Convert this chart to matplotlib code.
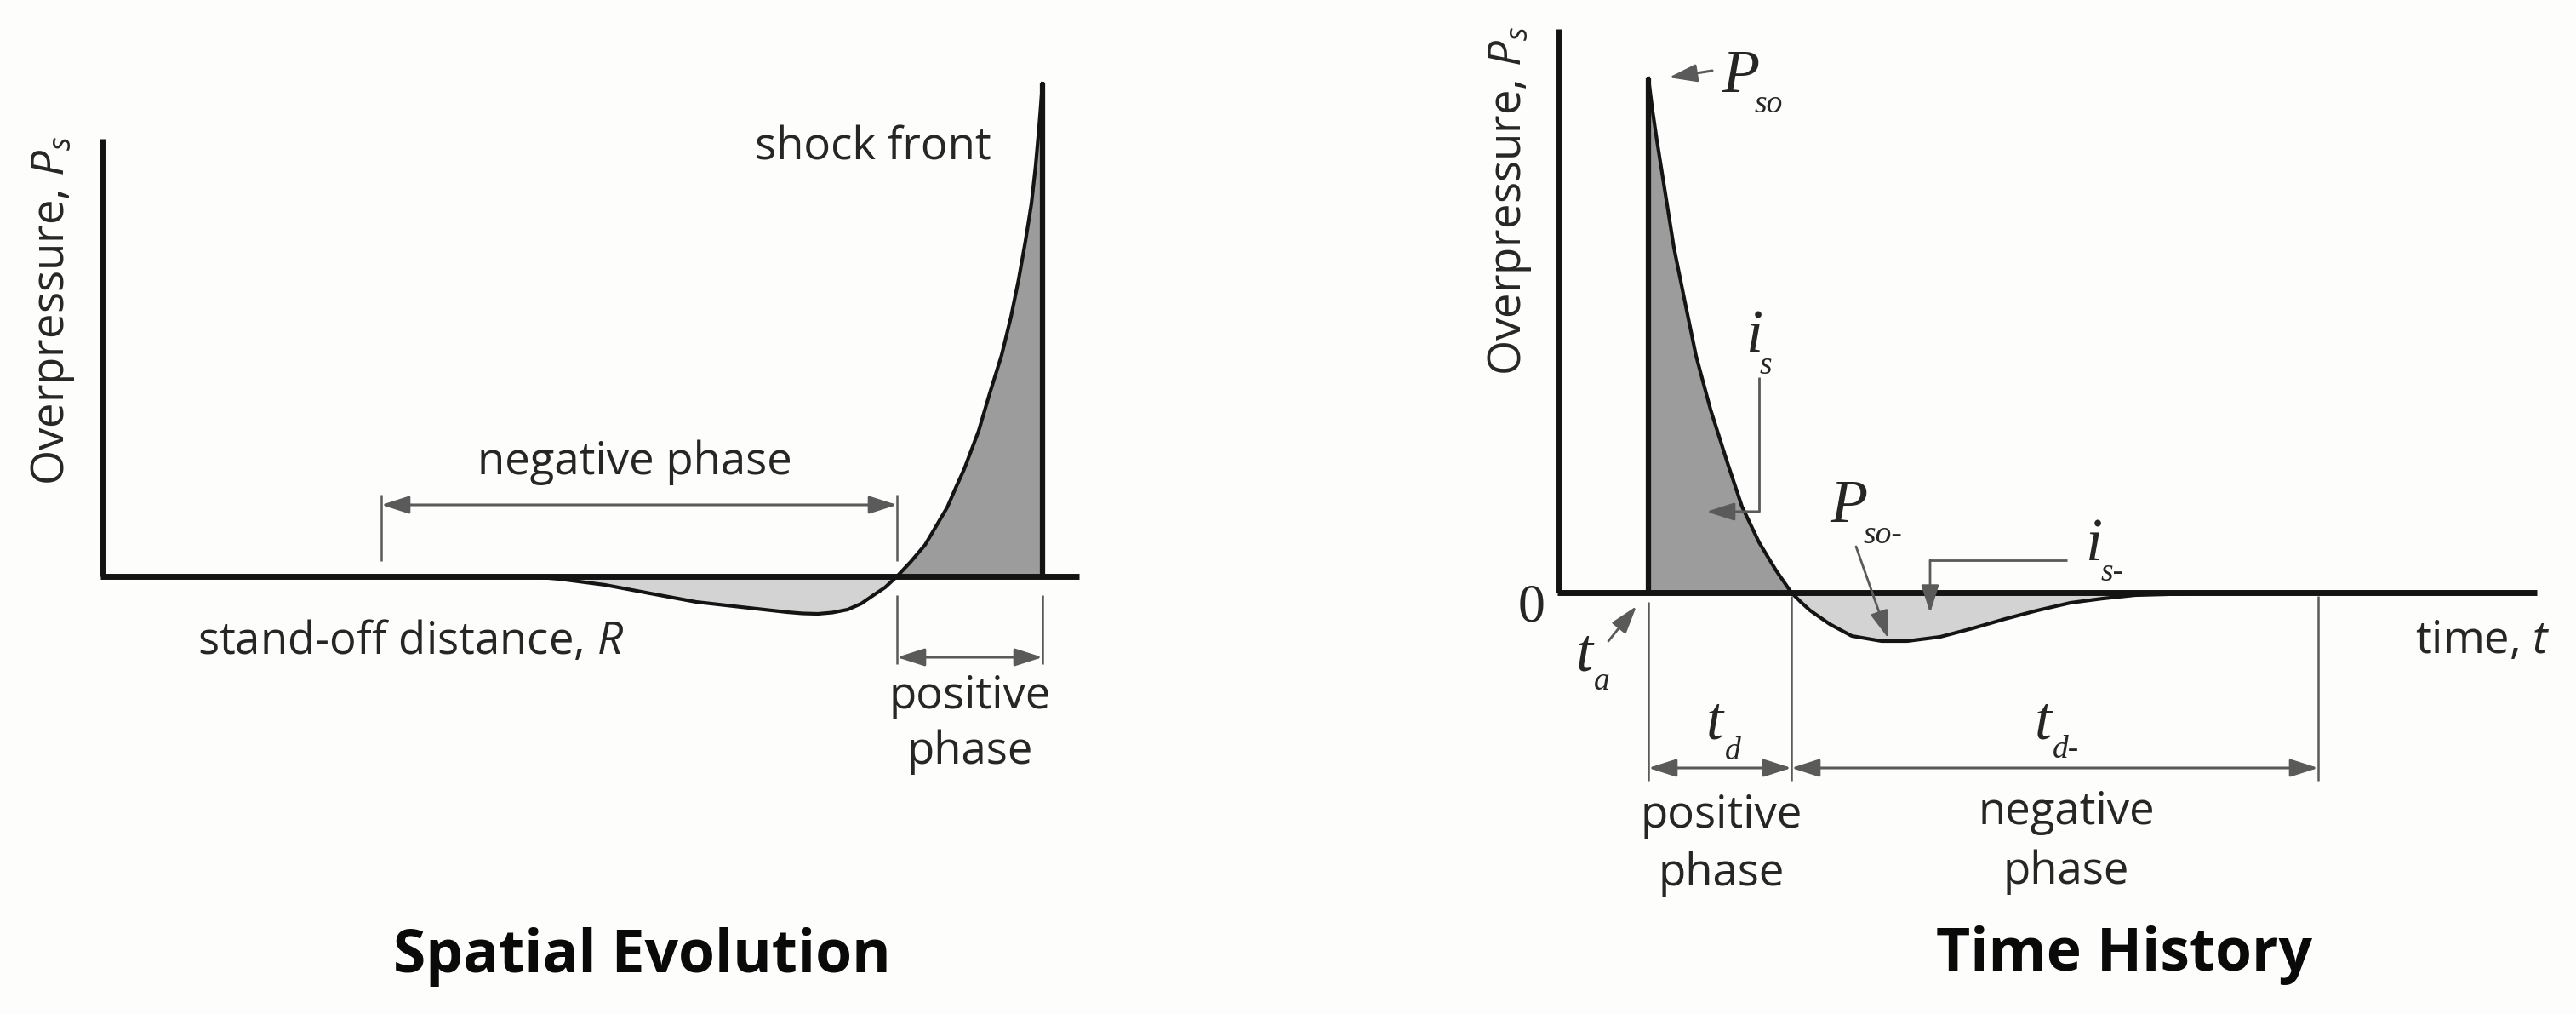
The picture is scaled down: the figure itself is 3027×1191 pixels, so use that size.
import matplotlib
matplotlib.use("Agg")
import matplotlib.pyplot as plt
import numpy as np

# ---------------- data (arbitrary units) ----------------
# Spatial evolution: overpressure vs stand-off distance
spatial_distance = [5.01, 5.37, 5.91, 6.44, 6.98, 7.51, 8.05, 8.23, 8.41, 8.58, 8.76, 8.92,
                    9.05, 9.20, 9.34, 9.50, 9.67, 9.80, 9.93, 10.03, 10.13, 10.30, 10.43,
                    10.57, 10.68, 10.77, 10.85, 10.92, 10.97, 11.01, 11.05]
spatial_pressure = [0.00, -0.03, -0.10, -0.20, -0.30, -0.36, -0.42, -0.435, -0.44, -0.425, -0.39, -0.32,
                    -0.23, -0.13, 0.00, 0.17, 0.37, 0.59, 0.81, 1.04, 1.26, 1.71, 2.15,
                    2.60, 3.05, 3.49, 3.94, 4.38, 4.83, 5.28, 5.79]

# Time history: overpressure vs time
time_values = [1.05, 1.10, 1.15, 1.25, 1.35, 1.48, 1.61, 1.78, 1.98, 2.15, 2.35, 2.55, 2.73,
               2.84, 2.95, 3.18, 3.44, 3.79, 4.09, 4.48, 4.86, 5.24, 5.62, 6.01, 6.39,
               6.77, 7.15, 7.73]
time_pressure = [6.04, 5.65, 5.31, 4.68, 4.05, 3.41, 2.78, 2.15, 1.52, 1.01, 0.59, 0.26, 0.00,
                 -0.11, -0.21, -0.37, -0.51, -0.57, -0.57, -0.52, -0.42, -0.31, -0.21, -0.12, -0.07,
                 -0.03, -0.02, 0.00]

panel_titles = ["Spatial Evolution", "Time History"]

# ---------------- style ----------------
W, H = 3027, 1191
BG = "#fdfdfb"
INK = "#141414"
TXT = "#262626"
DIM = "#5a5a5a"
DARK_FILL = "#9c9c9c"
LIGHT_FILL = "#d3d3d3"
SANS = "Open Sans"
SERIF = "Liberation Serif"
FS = 38

plt.rcParams["mathtext.fontset"] = "custom"
plt.rcParams["mathtext.rm"] = SANS
plt.rcParams["mathtext.it"] = SANS + ":italic"

fig = plt.figure(figsize=(W / 100, H / 100), dpi=100, facecolor=BG)

# pixel -> data helpers (layout only); 1 data unit = 100 px
LX0, LY0 = 120, 677     # origin of left panel in pixels
RX0, RY0 = 1832, 696    # origin of right panel in pixels


def L(px, py):
    return ((px - LX0) / 100.0, (LY0 - py) / 100.0)


def R(px, py):
    return ((px - RX0) / 100.0, (RY0 - py) / 100.0)


SPLIT = 1500
axL = fig.add_axes([0, 0, SPLIT / W, 1])
axL.set_xlim((0 - LX0) / 100, (SPLIT - LX0) / 100)
axL.set_ylim((LY0 - H) / 100, LY0 / 100)
axR = fig.add_axes([SPLIT / W, 0, (W - SPLIT) / W, 1])
axR.set_xlim((SPLIT - RX0) / 100, (W - RX0) / 100)
axR.set_ylim((RY0 - H) / 100, RY0 / 100)
for a in (axL, axR):
    a.set_axis_off()
    a.patch.set_alpha(0)


def dim_arrow(ax, p0, p1, style="<|-|>", lw=2.2, color=DIM):
    ax.annotate("", xy=p1, xytext=p0, xycoords="data", textcoords="data",
                arrowprops=dict(arrowstyle=style + ",head_length=1.0,head_width=0.32",
                                mutation_scale=20, lw=lw, color=color,
                                shrinkA=0, shrinkB=0), zorder=6)


def vline(ax, p0, p1, lw=1.8, color=DIM, z=5):
    ax.plot([p0[0], p1[0]], [p0[1], p1[1]], color=color, lw=lw, zorder=z,
            solid_capstyle="butt")


# ================= LEFT: spatial evolution =================
xd = np.array(spatial_distance)
yd = np.array(spatial_pressure)
axL.fill_between(xd, yd, 0, where=yd >= 0, color=DARK_FILL, lw=0, zorder=1)
axL.fill_between(xd, yd, 0, where=yd <= 0, color=LIGHT_FILL, lw=0, zorder=1)
# axes
ax_top_L = L(0, 163)[1]
ax_end_L = L(1268, 0)[0]
axL.plot([0, 0], [0, ax_top_L], color=INK, lw=5, zorder=3, solid_capstyle="butt")
axL.plot([-0.025, ax_end_L], [0, 0], color=INK, lw=5, zorder=3, solid_capstyle="butt")
# curve and shock front edge
axL.plot(xd, yd, color=INK, lw=3, zorder=4, solid_joinstyle="round")
axL.plot([xd[-1], xd[-1]], [0, yd[-1]], color=INK, lw=4.5, zorder=4, solid_capstyle="butt")

zero_L = spatial_distance[spatial_pressure.index(0.00, 1)]
shock_L = spatial_distance[-1]
# negative phase dimension
neg_start_L = L(448, 0)[0]
yA = L(0, 593)[1]
vline(axL, (neg_start_L, L(0, 581)[1]), (neg_start_L, L(0, 659)[1]))
vline(axL, (zero_L, L(0, 581)[1]), (zero_L, L(0, 659)[1]))
dim_arrow(axL, (neg_start_L, yA), (zero_L, yA))
# positive phase dimension
for xx in (zero_L, shock_L):
    vline(axL, (xx, L(0, 699)[1]), (xx, L(0, 780)[1]))
yP = L(0, 772)[1]
dim_arrow(axL, (zero_L, yP), (shock_L, yP))

# texts
axL.text(*L(75, 570), "Overpressure, $P_s$", rotation=90, rotation_mode="anchor",
         ha="left", va="baseline", fontsize=FS, family=SANS, color=TXT)
axL.text(*L(1026, 187), "shock front", ha="center", va="baseline",
         fontsize=FS, family=SANS, color=TXT)
axL.text(*L(746, 557), "negative phase", ha="center", va="baseline",
         fontsize=FS, family=SANS, color=TXT)
axL.text(*L(232, 768), "stand-off distance, $R$", ha="left", va="baseline",
         fontsize=FS, family=SANS, color=TXT)
axL.text(*L(1140, 832), "positive", ha="center", va="baseline",
         fontsize=FS, family=SANS, color=TXT)
axL.text(*L(1140, 897), "phase", ha="center", va="baseline",
         fontsize=FS, family=SANS, color=TXT)
axL.text(*L(754, 1142), panel_titles[0], ha="center", va="baseline",
         fontsize=50, family=SANS, weight="bold", color="#0a0a0a")

# ================= RIGHT: time history =================
xt = np.array(time_values)
yt = np.array(time_pressure)
axR.fill_between(xt, yt, 0, where=yt >= 0, color=DARK_FILL, lw=0, zorder=1)
axR.fill_between(xt, yt, 0, where=yt <= 0, color=LIGHT_FILL, lw=0, zorder=1)
ax_top_R = R(0, 34)[1]
ax_end_R = R(2981, 0)[0]
axR.plot([0, 0], [0, ax_top_R], color=INK, lw=5, zorder=3, solid_capstyle="butt")
axR.plot([-0.025, ax_end_R], [0, 0], color=INK, lw=5, zorder=3, solid_capstyle="butt")
axR.plot(xt, yt, color=INK, lw=3, zorder=4, solid_joinstyle="round")
axR.plot([xt[0], xt[0]], [0, yt[0]], color=INK, lw=4.5, zorder=4, solid_capstyle="butt")

t_arr = time_values[0]
t_zero = time_values[time_pressure.index(0.00)]
t_end_neg = R(2724, 0)[0]
vline(axR, (t_arr, R(0, 707)[1]), (t_arr, R(0, 917)[1]))
vline(axR, (t_zero, R(0, 700)[1]), (t_zero, R(0, 917)[1]))
vline(axR, (t_end_neg, R(0, 700)[1]), (t_end_neg, R(0, 917)[1]))
yD = R(0, 902)[1]
dim_arrow(axR, (t_arr, yD), (t_zero, yD))
dim_arrow(axR, (t_zero, yD), (t_end_neg, yD))

# leaders
dim_arrow(axR, R(2012, 83), R(1961, 91), style="-|>")
vline(axR, R(2067, 443), R(2067, 601), lw=2.0)
dim_arrow(axR, R(2067, 601), R(2005, 601), style="-|>")
dim_arrow(axR, R(2181, 642), R(2219, 750), style="-|>", lw=2.0)
vline(axR, R(2429, 658), R(2268, 658), lw=2.0)
dim_arrow(axR, R(2268, 658), R(2268, 720), style="-|>", lw=2.0)
dim_arrow(axR, R(1890, 753), R(1923, 712), style="-|>", lw=2.0)

# sans texts
axR.text(*R(1787, 441), "Overpressure, $P_s$", rotation=90, rotation_mode="anchor",
         ha="left", va="baseline", fontsize=FS, family=SANS, color=TXT)
axR.text(*R(2917, 767), "time, $t$", ha="center", va="baseline",
         fontsize=FS, family=SANS, color=TXT)
axR.text(*R(2023, 972), "positive", ha="center", va="baseline",
         fontsize=FS, family=SANS, color=TXT)
axR.text(*R(2023, 1040), "phase", ha="center", va="baseline",
         fontsize=FS, family=SANS, color=TXT)
axR.text(*R(2428, 968), "negative", ha="center", va="baseline",
         fontsize=FS, family=SANS, color=TXT)
axR.text(*R(2428, 1038), "phase", ha="center", va="baseline",
         fontsize=FS, family=SANS, color=TXT)
axR.text(*R(2496, 1140), panel_titles[1], ha="center", va="baseline",
         fontsize=50, family=SANS, weight="bold", color="#0a0a0a")

# serif symbols
BIG, SUB = 52, 27


def sym(ax, p, s, size, upright=False):
    ax.text(*p, s, ha="left", va="baseline", fontsize=size, family=SERIF,
            style="normal" if upright else "italic", color=TXT, zorder=7)


sym(axR, R(2023, 108), "P", BIG)
sym(axR, R(2062, 132), "so", SUB)
sym(axR, R(2052, 413), "i", BIG)
sym(axR, R(2068, 439), "s", SUB)
sym(axR, R(2150, 613), "P", BIG)
sym(axR, R(2190, 638), "so-", SUB)
sym(axR, R(2451, 658), "i", BIG)
sym(axR, R(2469, 682), "s-", SUB)
sym(axR, R(1852, 787), "t", BIG)
sym(axR, R(1873, 810), "a", SUB)
sym(axR, R(2005, 868), "t", BIG)
sym(axR, R(2027, 892), "d", SUB)
sym(axR, R(2391, 868), "t", BIG)
sym(axR, R(2412, 890), "d-", SUB)
axR.text(*R(1800, 730), "0", ha="center", va="baseline", fontsize=46,
         family=SERIF, color=TXT)

fig.savefig("out.png", dpi=100, facecolor=BG)
